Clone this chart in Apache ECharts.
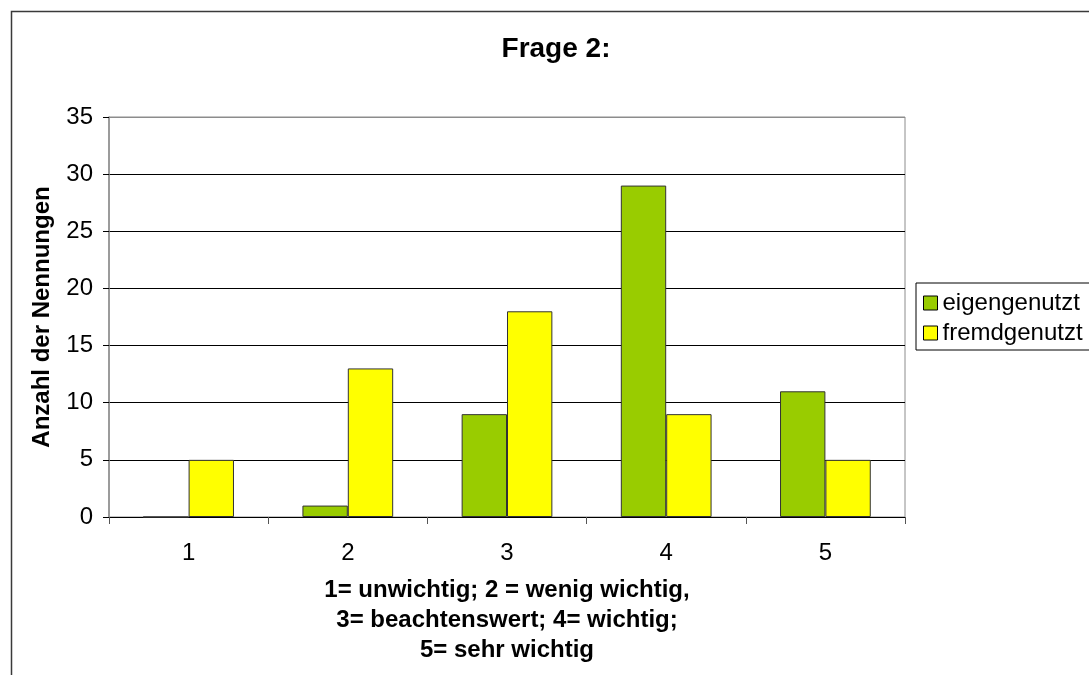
<!DOCTYPE html>
<html>
<head>
<meta charset="utf-8">
<script src="https://cdn.jsdelivr.net/npm/echarts@6/dist/echarts.min.js"></script>
<style>
  html, body { margin: 0; padding: 0; background: #fff; }
  #chart { width: 1089px; height: 675px; }
</style>
</head>
<body>
<div id="chart"></div>
<script>
// Ratings 1..5 and the number of mentions for each group
const categories = ['1', '2', '3', '4', '5'];
const eigengenutzt = [0, 1, 9, 29, 11];
const fremdgenutzt = [5, 13, 18, 9, 5];
const yTicks = [0, 5, 10, 15, 20, 25, 30, 35];

const FONT = '"Liberation Sans", Arial, sans-serif';

const chart = echarts.init(document.getElementById('chart'), null, { renderer: 'canvas' });

// the grid lines are black, the top edge at the maximum is grey like the frame
const splitColors = yTicks.map((v, i) => (i === yTicks.length - 1 ? '#8c8c8c' : '#000000'));

chart.setOption({
  backgroundColor: '#ffffff',
  animation: false,
  textStyle: { fontFamily: FONT },
  title: {
    text: 'Frage 2:',
    left: 551,
    textAlign: 'center',
    top: 30,
    textStyle: { fontFamily: FONT, fontSize: 28, fontWeight: 'bold', color: '#000' }
  },
  graphic: [
    {
      type: 'rect',
      shape: { x: 11.5, y: 11.5, width: 1200, height: 800 },
      style: { fill: 'none', stroke: '#3a3a3a', lineWidth: 1.5 },
      silent: true,
      z: -10
    }
  ],
  legend: {
    orient: 'vertical',
    left: 916,
    top: 283,
    padding: [8, 7, 5, 7],
    itemGap: 6,
    itemWidth: 14,
    itemHeight: 14,
    borderColor: '#000',
    borderWidth: 1,
    icon: 'rect',
    itemStyle: { borderColor: '#000', borderWidth: 1 },
    textStyle: { fontFamily: FONT, fontSize: 24, lineHeight: 24, color: '#000' },
    data: ['eigengenutzt', 'fremdgenutzt']
  },
  grid: {
    left: 109,
    right: 184,
    top: 117,
    bottom: 158,
    show: true,
    borderColor: '#8c8c8c',
    borderWidth: 1,
    backgroundColor: '#ffffff',
    containLabel: false
  },
  xAxis: {
    type: 'category',
    data: categories,
    boundaryGap: true,
    axisLine: { show: true, lineStyle: { color: '#000', width: 1 } },
    axisTick: { show: true, length: 7, lineStyle: { color: '#555' } },
    axisLabel: { margin: 24, fontFamily: FONT, fontSize: 24, color: '#000' },
    name: '1= unwichtig; 2 = wenig wichtig,\n3= beachtenswert; 4= wichtig;\n5= sehr wichtig',
    nameLocation: 'middle',
    nameGap: 58,
    nameTextStyle: {
      fontFamily: FONT, fontSize: 24, fontWeight: 'bold', color: '#000',
      lineHeight: 30, align: 'center', verticalAlign: 'top'
    }
  },
  yAxis: {
    type: 'value',
    min: 0,
    max: 35,
    interval: 5,
    axisLine: { show: true, lineStyle: { color: '#8c8c8c', width: 1.5 } },
    axisTick: { show: true, length: 6, lineStyle: { color: '#000' } },
    axisLabel: { margin: 16, fontFamily: FONT, fontSize: 24, color: '#000' },
    splitLine: { show: true, lineStyle: { color: splitColors, width: 1 } },
    name: 'Anzahl der Nennungen',
    nameLocation: 'middle',
    nameGap: 55,
    nameTextStyle: { fontFamily: FONT, fontSize: 24, fontWeight: 'bold', color: '#000' }
  },
  series: [
    {
      name: 'eigengenutzt',
      type: 'bar',
      data: eigengenutzt,
      barGap: '0%',
      barCategoryGap: '43%',
      itemStyle: { color: '#99cc00', borderColor: '#333', borderWidth: 1 }
    },
    {
      name: 'fremdgenutzt',
      type: 'bar',
      data: fremdgenutzt,
      barGap: '0%',
      barCategoryGap: '43%',
      itemStyle: { color: '#ffff00', borderColor: '#333', borderWidth: 1 }
    }
  ]
});
</script>
</body>
</html>
